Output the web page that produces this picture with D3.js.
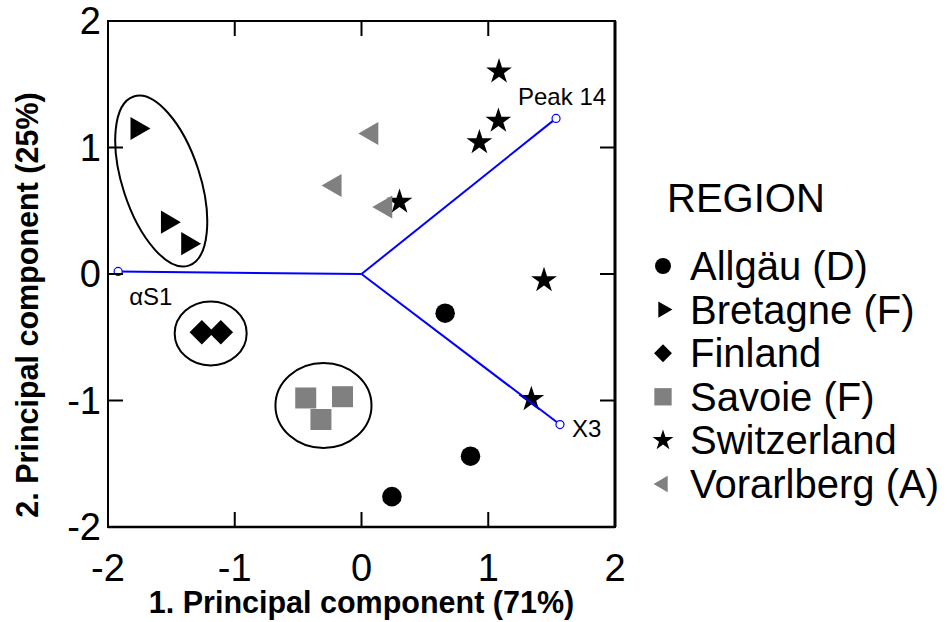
<!DOCTYPE html>
<html>
<head>
<meta charset="utf-8">
<script src="https://cdn.jsdelivr.net/npm/d3@7"></script>
<style>
  body { margin: 0; background: #fff; }
  text { font-family: Arial, "Liberation Sans", sans-serif; }
</style>
</head>
<body>
<svg id="chart" width="947" height="622"></svg>
<script>
// Scores per region [pc1, pc2]
const allgau = [[0.66, -0.31], [0.86, -1.44], [0.24, -1.76]];
const bretagne = [[-1.77, 1.15], [-1.53, 0.41], [-1.37, 0.24]];
const finland = [[-1.26, -0.46], [-1.11, -0.46]];
const savoie = [[-0.44, -0.98], [-0.15, -0.97], [-0.32, -1.15]];
const switzerland = [[1.085, 1.60], [1.08, 1.21], [0.93, 1.04], [0.30, 0.57], [1.44, -0.05], [1.34, -0.99]];
const vorarlberg = [[0.08, 1.11], [-0.21, 0.70], [0.19, 0.53]];

// Loading vectors
const loadingNames = ['αS1', 'Peak 14', 'X3'];
const loadingValues = [[-1.92, 0.02], [1.535, 1.23], [1.566, -1.19]];

// Group ellipses: centre, radii (data units), rotation (deg)
const ellipseCentres = [[-1.58, 0.735], [-1.19, -0.47], [-0.30, -1.04]];
const ellipseRadii = [[0.306, 0.703], [0.284, 0.253], [0.379, 0.336]];
const ellipseAngles = [-18, 0, 0];

const tickValues = [-2, -1, 0, 1, 2];
const innerTicks = [-1, 0, 1];

const regionNames = ['Allgäu (D)', 'Bretagne (F)', 'Finland', 'Savoie (F)', 'Switzerland', 'Vorarlberg (A)'];
const regionData = [allgau, bretagne, finland, savoie, switzerland, vorarlberg];

const svg = d3.select('#chart');
const plot = { left: 108, right: 615, top: 21, bottom: 527 };

const x = d3.scaleLinear().domain([-2, 2]).range([plot.left, plot.right]);
const y = d3.scaleLinear().domain([-2, 2]).range([plot.bottom, plot.top]);

// marker style per region
const styles = [
  { type: d3.symbolCircle, size: 300, rot: 0, fill: '#000', lsize: 200 },
  { type: d3.symbolTriangle, size: 230, rot: 90, fill: '#000', lsize: 115 },
  { type: d3.symbolSquare, size: 300, rot: 45, fill: '#000', lsize: 160 },
  { type: d3.symbolSquare, size: 441, rot: 0, fill: '#808080', lsize: 300 },
  { type: d3.symbolStar, size: 205, rot: 0, fill: '#000', lsize: 135 },
  { type: d3.symbolTriangle, size: 230, rot: -90, fill: '#808080', lsize: 115 }
];

// ellipses
const eg = svg.append('g');
ellipseCentres.forEach((c, i) => {
  const rx = x(ellipseRadii[i][0]) - x(0);
  const ry = y(0) - y(ellipseRadii[i][1]);
  eg.append('ellipse')
    .attr('transform', `translate(${x(c[0])},${y(c[1])}) rotate(${ellipseAngles[i]})`)
    .attr('rx', rx)
    .attr('ry', ry)
    .attr('fill', 'none')
    .attr('stroke', '#000')
    .attr('stroke-width', 2);
});

// points
const pg = svg.append('g');
regionData.forEach((pts, i) => {
  const s = styles[i];
  pg.selectAll(null)
    .data(pts)
    .enter()
    .append('path')
    .attr('d', d3.symbol().type(s.type).size(s.size))
    .attr('transform', d => `translate(${x(d[0])},${y(d[1])}) rotate(${s.rot})`)
    .attr('fill', s.fill);
});

// loading lines
const lg = svg.append('g');
loadingValues.forEach((v, i) => {
  lg.append('line')
    .attr('x1', x(0)).attr('y1', y(0))
    .attr('x2', x(v[0])).attr('y2', y(v[1]))
    .attr('stroke', '#0000ff')
    .attr('stroke-width', 2);
  lg.append('circle')
    .attr('cx', x(v[0])).attr('cy', y(v[1]))
    .attr('r', 4)
    .attr('fill', '#fff')
    .attr('stroke', '#0000ff')
    .attr('stroke-width', 1.2);
});
const labelOffsets = [[11, 34, 'start', 24], [6, -13, 'middle', 24], [12, 12, 'start', 24]];
loadingNames.forEach((n, i) => {
  const o = labelOffsets[i];
  svg.append('text')
    .attr('x', x(loadingValues[i][0]) + o[0])
    .attr('y', y(loadingValues[i][1]) + o[1])
    .attr('text-anchor', o[2])
    .style('font-size', o[3] + 'px')
    .text(n);
});

// frame and inner ticks
const fg = svg.append('g').attr('stroke', '#000').attr('fill', 'none');
fg.append('rect')
  .attr('x', plot.left).attr('y', plot.top)
  .attr('width', plot.right - plot.left).attr('height', plot.bottom - plot.top)
  .attr('stroke-width', 2);
fg.append('line').attr('x1', plot.right).attr('x2', plot.right).attr('y1', plot.top).attr('y2', plot.bottom).attr('stroke-width', 3);
fg.append('line').attr('x1', plot.left).attr('x2', plot.right).attr('y1', plot.bottom).attr('y2', plot.bottom).attr('stroke-width', 2.5);
const tickLen = 15;
innerTicks.forEach(t => {
  fg.append('line').attr('x1', x(t)).attr('x2', x(t)).attr('y1', plot.bottom).attr('y2', plot.bottom - tickLen).attr('stroke-width', 2);
  fg.append('line').attr('x1', x(t)).attr('x2', x(t)).attr('y1', plot.top).attr('y2', plot.top + tickLen).attr('stroke-width', 2);
  fg.append('line').attr('y1', y(t)).attr('y2', y(t)).attr('x1', plot.left).attr('x2', plot.left + tickLen).attr('stroke-width', 2);
  fg.append('line').attr('y1', y(t)).attr('y2', y(t)).attr('x1', plot.right).attr('x2', plot.right - tickLen).attr('stroke-width', 2);
});

// tick labels
const tickFont = 38;
svg.append('g').selectAll('text')
  .data(tickValues)
  .enter()
  .append('text')
  .attr('x', d => x(d))
  .attr('y', 581)
  .attr('text-anchor', 'middle')
  .style('font-size', tickFont + 'px')
  .text(d => d);
svg.append('g').selectAll('text')
  .data(tickValues)
  .enter()
  .append('text')
  .attr('x', 101)
  .attr('y', d => y(d) + 13)
  .attr('text-anchor', 'end')
  .style('font-size', tickFont + 'px')
  .text(d => d);

// axis titles
svg.append('text')
  .attr('x', x(0))
  .attr('y', 613)
  .attr('text-anchor', 'middle')
  .style('font-size', '30.5px')
  .style('font-weight', 'bold')
  .text('1. Principal component (71%)');
svg.append('text')
  .attr('transform', 'translate(38,305) rotate(-90)')
  .attr('text-anchor', 'middle')
  .style('font-size', '30.5px')
  .style('font-weight', 'bold')
  .text('2. Principal component (25%)');

// legend
const leg = svg.append('g');
leg.append('text')
  .attr('x', 667)
  .attr('y', 212)
  .style('font-size', '40px')
  .text('REGION');
const rowY = d3.scaleLinear().domain([0, 5]).range([266, 484]);
regionNames.forEach((n, i) => {
  const s = styles[i];
  leg.append('path')
    .attr('d', d3.symbol().type(s.type).size(s.lsize))
    .attr('transform', `translate(663,${rowY(i)}) rotate(${s.rot})`)
    .attr('fill', s.fill);
  leg.append('text')
    .attr('x', 690)
    .attr('y', rowY(i) + 14)
    .style('font-size', '40px')
    .text(n);
});
</script>
</body>
</html>
